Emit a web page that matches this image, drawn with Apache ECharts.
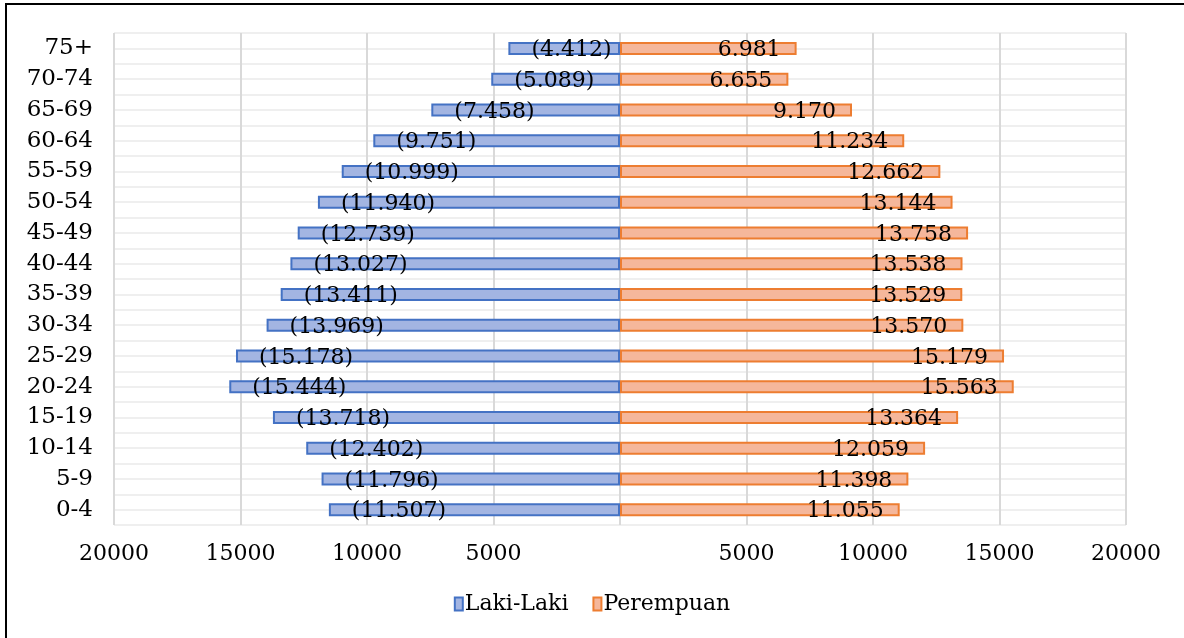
<!DOCTYPE html>
<html>
<head>
<meta charset="utf-8">
<script src="https://cdn.jsdelivr.net/npm/echarts@6/dist/echarts.min.js"></script>
<style>
html,body{margin:0;padding:0;background:#fff;}
#chart{width:1184px;height:638px;}
</style>
</head>
<body>
<div id="chart"></div>
<script>
var categories = ['0-4','5-9','10-14','15-19','20-24','25-29','30-34','35-39','40-44','45-49','50-54','55-59','60-64','65-69','70-74','75+'];
var laki = [11507,11796,12402,13718,15444,15178,13969,13411,13027,12739,11940,10999,9751,7458,5089,4412];
var perempuan = [11055,11398,12059,13364,15563,15179,13570,13529,13538,13758,13144,12662,11234,9170,6655,6981];
var seriesNames = ['Laki-Laki','Perempuan'];

var FONT = '"DejaVu Serif", serif';
function fmt(n){ return String(Math.abs(n)).replace(/\B(?=(\d{3})+(?!\d))/g, '.'); }

var chart = echarts.init(document.getElementById('chart'), null, {renderer:'canvas'});
chart.setOption({
  animation:false,
  backgroundColor:'#fff',
  textStyle:{fontFamily:FONT},
  graphic:[{type:'rect', shape:{x:6,y:4,width:1300,height:800}, style:{fill:'none', stroke:'#000', lineWidth:2}, silent:true, z:-1}],
  grid:{left:114, right:58, top:33, bottom:113, containLabel:false},
  legend:{
    bottom:18, left:'center', itemWidth:8, itemHeight:13, itemGap:24, icon:'rect',
    textStyle:{fontFamily:FONT, fontSize:22, color:'#000', padding:[0,0,0,-3]},
    data:seriesNames
  },
  xAxis:{
    type:'value', min:-20000, max:20000, interval:5000,
    axisLine:{show:false}, axisTick:{show:false},
    splitLine:{show:true, lineStyle:{color:'#d9d9d9', width:2}},
    axisLabel:{margin:18, fontFamily:FONT, fontSize:22, color:'#000',
      formatter:function(v){ return v===0 ? '' : String(Math.abs(v)); }}
  },
  yAxis:[{
    type:'category', data:categories,
    axisLine:{show:false}, axisTick:{show:false},
    splitLine:{show:false},
    axisLabel:{margin:21, fontFamily:FONT, fontSize:23, color:'#000'}
  },{
    type:'value', min:0, max:32, interval:1, position:'left',
    axisLine:{show:false}, axisTick:{show:false}, axisLabel:{show:false},
    splitLine:{show:true, lineStyle:{color:'#efefef', width:2}}
  }],
  series:[{
    name:seriesNames[0], type:'bar', yAxisIndex:0, barWidth:13, barGap:'-100%',
    data:laki.map(function(v){return -v;}),
    itemStyle:{color:'#a3b5e2', borderColor:'#4472c4', borderWidth:2},
    label:{show:true, position:'insideLeft', distance:23, offset:[0,2], fontFamily:FONT, fontSize:22, color:'#000',
      formatter:function(p){ return '(' + fmt(p.value) + ')'; }},
    z:3
  },{
    name:seriesNames[1], type:'bar', yAxisIndex:0, barWidth:13, barGap:'-100%',
    data:perempuan,
    itemStyle:{color:'#f5b79b', borderColor:'#ed7d31', borderWidth:2},
    label:{show:true, position:'insideRight', distance:16, offset:[0,2], fontFamily:FONT, fontSize:22, color:'#000',
      formatter:function(p){ return fmt(p.value); }},
    z:3
  }]
});
</script>
</body>
</html>
